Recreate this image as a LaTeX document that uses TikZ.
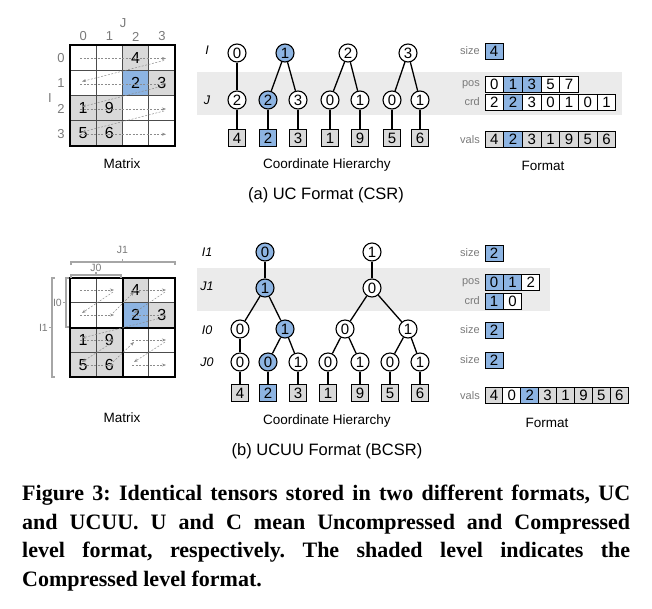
\documentclass[tikz,border=0pt]{standalone}
\usepackage{fontspec}
\setmainfont{Liberation Serif}
\setsansfont{Liberation Sans}
\usetikzlibrary{arrows.meta}
\definecolor{cblue}{HTML}{8DB4E2}
\definecolor{cgray}{HTML}{D9D9D9}
\definecolor{band}{HTML}{EBEBEB}
\definecolor{lbl}{HTML}{7A7A7A}
\definecolor{brk}{HTML}{A6A6A6}
\begin{document}
\begin{tikzpicture}[x=1pt,y=-1pt,
  tnode/.style={circle, draw, line width=1.1pt, minimum size=18pt, inner sep=0pt, fill=white, font=\sffamily\fontsize{15}{15}\selectfont},
  bnode/.style={tnode, fill=cblue},
  vbox/.style={draw, line width=1pt, minimum width=17pt, minimum height=17pt, inner sep=0pt, fill=cgray, font=\sffamily\fontsize{15}{15}\selectfont},
  fcell/.style={draw, line width=1pt, minimum height=16pt, inner sep=0pt, fill=white, font=\sffamily\fontsize{15}{15}\selectfont},
  mcell/.style={draw=none, minimum width=26.25pt, inner sep=0pt, font=\sffamily\fontsize{16}{16}\selectfont},
  tedge/.style={line width=1.3pt},
  flab/.style={anchor=east, inner sep=0pt, text=lbl, font=\sffamily\fontsize{11}{11}\selectfont},
  lvl/.style={inner sep=0pt, font=\sffamily\itshape\fontsize{12.5}{12.5}\selectfont},
  mlab/.style={inner sep=0pt, text=lbl, font=\sffamily\fontsize{13}{13}\selectfont},
  blab/.style={inner sep=0pt, text=lbl, font=\sffamily\fontsize{10.5}{10.5}\selectfont},
  ttl/.style={inner sep=0pt, font=\sffamily\fontsize{13.5}{13.5}\selectfont},
  sub/.style={inner sep=0pt, font=\sffamily\fontsize{16.5}{16.5}\selectfont},
  gline/.style={draw=black!70, line width=0.8pt},
  thick line/.style={line width=2pt},
  trav/.style={draw=black!45, line width=0.5pt, dash pattern=on 2pt off 1.5pt, -{Stealth[length=4pt,width=3pt]}},
  brack/.style={draw=brk, line width=1.2pt}
]
\useasboundingbox (0,0) rectangle (652,608);

% ================= (a) =================
\fill[band] (197,72) rectangle (622,115);

% ---- matrix (a)
\foreach \r/\c/\v/\f in {0/2/4/cgray,1/2/2/cblue,1/3/3/cgray,2/0/1/cgray,2/1/9/cgray,3/0/5/cgray,3/1/6/cgray}
  \node[mcell, minimum height=25.25pt, fill=\f] (am\r\c) at ({83.125+\c*26.25},{57.625+\r*25.25}) {\v};
\foreach \k in {1,2,3} {
  \draw[gline] ({70+\k*26.25},45) -- ({70+\k*26.25},146);
  \draw[gline] (70,{45+\k*25.25}) -- (175,{45+\k*25.25});
}
\draw[thick line] (70,45) rectangle (175,146);
\foreach \r in {0,1,2,3} {
  \coordinate (as\r) at (80,{58.5+\r*25.25});
  \coordinate (ae\r) at (166,{58.5+\r*25.25});
  \draw[trav] (as\r) -- (ae\r);
}
\foreach \r in {0,1,2} {
  \coordinate (ada\r) at (164,{60.5+\r*25.25});
  \coordinate (adb\r) at (82,{81.5+\r*25.25});
  \draw[trav] (ada\r) -- (adb\r);
}
\node[mlab] (aJ) at (123,23) {J};
\node[mlab] (aI) at (50,98) {I};
\foreach \k in {0,1,2,3} {
  \node[mlab] (acl\k) at ({83.125+\k*26.25},36.5) {\k};
  \node[mlab] (arl\k) at (61,{58+\k*25.25}) {\k};
}
\node[ttl] (amt) at (122,164) {Matrix};

% ---- hierarchy (a)
\node[lvl] (aLI) at (207,50) {I};
\node[lvl] (aLJ) at (207,100) {J};
\node[tnode] (ai0) at (237,53) {0};
\node[bnode] (ai1) at (285,53) {1};
\node[tnode] (ai2) at (348,53) {2};
\node[tnode] (ai3) at (408,53) {3};
\foreach \x/\v/\s [count=\n from 0] in {237/2/tnode,268/2/bnode,298/3/tnode,330/0/tnode,360/1/tnode,392/0/tnode,420/1/tnode}
  \node[\s] (aj\n) at (\x,100) {\v};
\foreach \x/\v/\f [count=\n from 0] in {237/4/cgray,268/2/cblue,298/3/cgray,330/1/cgray,360/9/cgray,392/5/cgray,420/6/cgray}
  \node[vbox, fill=\f] (av\n) at (\x,138) {\v};
\draw[tedge] (ai0) -- (aj0);
\draw[tedge] (ai1) -- (aj1);
\draw[tedge] (ai1) -- (aj2);
\draw[tedge] (ai2) -- (aj3);
\draw[tedge] (ai2) -- (aj4);
\draw[tedge] (ai3) -- (aj5);
\draw[tedge] (ai3) -- (aj6);
\foreach \n in {0,...,6} \draw[tedge] (aj\n) -- (av\n);
\node[ttl] (act) at (327,165) {Coordinate Hierarchy};

% ---- format (a)
\node[flab] (asl) at (480,51) {size};
\node[fcell, minimum width=18pt, fill=cblue] (asz) at (494,51) {4};
\node[flab] (apl) at (480,84.5) {pos};
\foreach \v/\f [count=\n from 0] in {0/white,1/cblue,3/cblue,5/white,7/white}
  \node[fcell, minimum width=18.7pt, fill=\f] (ap\n) at ({494.35+\n*18.7},84.5) {\v};
\node[flab] (acl) at (480,102) {crd};
\foreach \v/\f [count=\n from 0] in {2/white,2/cblue,3/white,0/white,1/white,0/white,1/white}
  \node[fcell, minimum width=18.7pt, fill=\f] (ac\n) at ({494.35+\n*18.7},102) {\v};
\node[flab] (avl) at (480,139.5) {vals};
\foreach \v/\f [count=\n from 0] in {4/cgray,2/cblue,3/cgray,1/cgray,9/cgray,5/cgray,6/cgray}
  \node[fcell, minimum width=18.7pt, fill=\f] (afv\n) at ({494.35+\n*18.7},139.5) {\v};
\node[ttl] (aft) at (543,166) {Format};

\node[sub] (asub) at (326,195) {(a) UC Format (CSR)};

% ================= (b) =================
\fill[band] (197,268) rectangle (550,311);

% ---- matrix (b)
\foreach \r/\c/\v/\f in {0/2/4/cgray,1/2/2/cblue,1/3/3/cgray,2/0/1/cgray,2/1/9/cgray,3/0/5/cgray,3/1/6/cgray}
  \node[mcell, minimum height=24.75pt, fill=\f] (bm\r\c) at ({83.125+\c*26.25},{290.375+\r*24.75}) {\v};
\foreach \k in {1,3} {
  \draw[gline] ({70+\k*26.25},278) -- ({70+\k*26.25},377);
  \draw[gline] (70,{278+\k*24.75}) -- (175,{278+\k*24.75});
}
\draw[thick line] (122.5,278) -- (122.5,377);
\draw[thick line] (70,327.5) -- (175,327.5);
\draw[thick line] (70,278) rectangle (175,377);
\foreach \ax/\ay/\bx/\by [count=\n] in {
  80/290/114/290, 113/292/82/313, 80/315/114/315, 113/313/134/292,
  132/290/166/290, 165/292/134/313, 132/315/166/315, 165/317/82/338,
  80/340/114/340, 113/342/82/362, 80/365/114/365, 113/362/134/342,
  132/340/166/340, 165/342/134/362, 132/365/166/365} {
  \coordinate (bta\n) at (\ax,\ay);
  \coordinate (btb\n) at (\bx,\by);
  \draw[trav] (bta\n) -- (btb\n);
}
% brackets
\draw[brack] (71,265) -- (71,262) -- (175,262) -- (175,265);
\draw[brack] (122.5,262) -- (122.5,259);
\node[blab] (bJ1) at (122.5,250) {J1};
\draw[brack] (71,278) -- (71,275) -- (121,275) -- (121,278);
\draw[brack] (96,275) -- (96,272);
\node[blab] (bJ0) at (96,267.5) {J0};
\draw[brack] (69,278) -- (66,278) -- (66,327) -- (69,327);
\draw[brack] (66,302.5) -- (63,302.5);
\node[blab, anchor=east] (bI0) at (62,302.5) {I0};
\draw[brack] (55,278) -- (52,278) -- (52,377) -- (55,377);
\draw[brack] (52,327.5) -- (49,327.5);
\node[blab, anchor=east] (bI1) at (48,327.5) {I1};
\node[ttl] (bmt) at (122,418) {Matrix};

% ---- hierarchy (b)
\node[lvl] (bL1) at (207,252) {I1};
\node[lvl] (bL2) at (207,286) {J1};
\node[lvl] (bL3) at (207,330) {I0};
\node[lvl] (bL4) at (207,362) {J0};
\node[bnode] (ba0) at (265,252) {0};
\node[tnode] (ba1) at (372,252) {1};
\node[bnode] (bb0) at (265,288) {1};
\node[tnode] (bb1) at (372,288) {0};
\node[tnode] (bc0) at (240,329) {0};
\node[bnode] (bc1) at (285,329) {1};
\node[tnode] (bc2) at (345,329) {0};
\node[tnode] (bc3) at (408,329) {1};
\foreach \x/\v/\s [count=\n from 0] in {240/0/tnode,268/0/bnode,298/1/tnode,328/0/tnode,360/1/tnode,390/0/tnode,420/1/tnode}
  \node[\s] (bd\n) at (\x,362) {\v};
\foreach \x/\v/\f [count=\n from 0] in {240/4/cgray,268/2/cblue,298/3/cgray,328/1/cgray,360/9/cgray,390/5/cgray,420/6/cgray}
  \node[vbox, fill=\f] (bv\n) at (\x,393) {\v};
\draw[tedge] (ba0) -- (bb0);
\draw[tedge] (ba1) -- (bb1);
\draw[tedge] (bb0) -- (bc0);
\draw[tedge] (bb0) -- (bc1);
\draw[tedge] (bb1) -- (bc2);
\draw[tedge] (bb1) -- (bc3);
\draw[tedge] (bc0) -- (bd0);
\draw[tedge] (bc1) -- (bd1);
\draw[tedge] (bc1) -- (bd2);
\draw[tedge] (bc2) -- (bd3);
\draw[tedge] (bc2) -- (bd4);
\draw[tedge] (bc3) -- (bd5);
\draw[tedge] (bc3) -- (bd6);
\foreach \n in {0,...,6} \draw[tedge] (bd\n) -- (bv\n);
\node[ttl] (bct) at (327,421) {Coordinate Hierarchy};

% ---- format (b)
\node[flab] (bsl1) at (480,253) {size};
\node[fcell, minimum width=18pt, fill=cblue] (bsz1) at (494,253) {2};
\node[flab] (bpl) at (480,282.5) {pos};
\foreach \v/\f [count=\n from 0] in {0/cblue,1/cblue,2/white}
  \node[fcell, minimum width=18.3pt, fill=\f] (bp\n) at ({494.15+\n*18.3},282.5) {\v};
\node[flab] (bcl) at (480,301) {crd};
\foreach \v/\f [count=\n from 0] in {1/cblue,0/white}
  \node[fcell, minimum width=18.3pt, fill=\f] (bc\n x) at ({494.15+\n*18.3},301) {\v};
\node[flab] (bsl2) at (480,330) {size};
\node[fcell, minimum width=18pt, fill=cblue] (bsz2) at (494,330) {2};
\node[flab] (bsl3) at (480,360) {size};
\node[fcell, minimum width=18pt, fill=cblue] (bsz3) at (494,360) {2};
\node[flab] (bvl) at (480,395.5) {vals};
\foreach \v/\f [count=\n from 0] in {4/cgray,0/white,2/cblue,3/cgray,1/cgray,9/cgray,5/cgray,6/cgray}
  \node[fcell, minimum width=17.9pt, fill=\f] (bfv\n) at ({493.95+\n*17.9},395.5) {\v};
\node[ttl] (bft) at (547,423) {Format};

\node[sub] (bsub) at (327,451) {(b) UCUU Format (BCSR)};

% ================= caption =================
\node[anchor=north west, inner sep=0pt, text width=608pt, align=justify,
      font=\bfseries\fontsize{22}{28.5}\selectfont] (cap) at (22,485)
  {\frenchspacing Figure 3: Identical tensors stored in two different formats, UC\linebreak
   and UCUU. U and C mean Uncompressed and Compressed\linebreak
   level format, respectively. The shaded level indicates the\linebreak
   Compressed level format.};
\end{tikzpicture}
\end{document}
